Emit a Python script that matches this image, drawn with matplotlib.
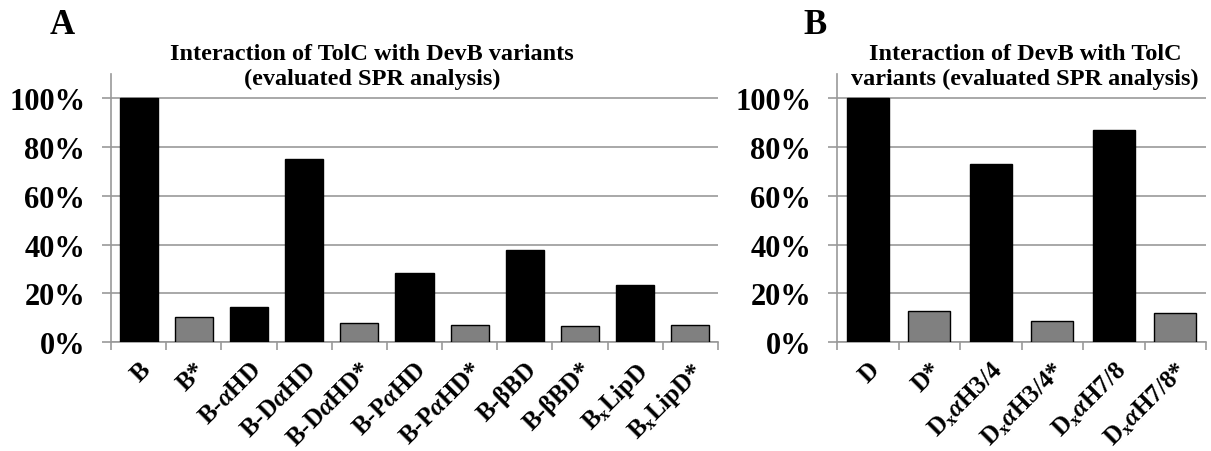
import numpy as np
import matplotlib
matplotlib.use('Agg')
import matplotlib.pyplot as plt
from matplotlib.ticker import PercentFormatter

plt.rcParams['font.family'] = 'Liberation Serif'
plt.rcParams['font.weight'] = 'bold'
plt.rcParams['mathtext.fontset'] = 'custom'
plt.rcParams['mathtext.rm'] = 'Liberation Serif:bold'
plt.rcParams['mathtext.bf'] = 'Liberation Serif:bold'
plt.rcParams['mathtext.it'] = 'Liberation Serif:bold:italic'
plt.rcParams['mathtext.default'] = 'bf'

# panel A: TolC with DevB variants
labels_a = ['B', 'B*', r'B-$\mathit{\alpha}$HD', r'B-D$\mathit{\alpha}$HD', r'B-D$\mathit{\alpha}$HD*',
            r'B-P$\mathit{\alpha}$HD', r'B-P$\mathit{\alpha}$HD*', 'B-βBD', 'B-βBD*',
            r'B$_x$LipD', r'B$_x$LipD*']
values_a = [100, 10.4, 14.2, 75.0, 7.7, 28.4, 7.1, 37.7, 6.5, 23.4, 7.1]
mutant_a = [False, True, False, False, True, False, True, False, True, False, True]

# panel B: DevB with TolC variants
labels_b = ['D', 'D*', r'D$_x\mathit{\alpha}$H3/4', r'D$_x\mathit{\alpha}$H3/4*',
            r'D$_x\mathit{\alpha}$H7/8', r'D$_x\mathit{\alpha}$H7/8*']
values_b = [100, 12.7, 73.2, 8.6, 87.0, 11.9]
mutant_b = [False, True, False, True, False, True]

GRID = '#999999'


def draw_panel(ax, labels, values, mutant, title, letter, title_x, letter_x):
    x = np.arange(len(values))
    colors = ['#808080' if m else 'black' for m in mutant]
    ax.bar(x, np.array(values) / 100.0, width=0.69, color=colors,
           edgecolor='black', linewidth=1.0, zorder=3)
    ax.set_ylim(0, 1.1)
    ax.set_xlim(-0.5, len(values) - 0.5)
    ax.set_yticks(np.arange(0, 1.01, 0.2))
    ax.yaxis.set_major_formatter(PercentFormatter(1.0, decimals=0))
    ax.yaxis.grid(True, color=GRID, linewidth=1.2, zorder=0)
    ax.set_axisbelow(True)
    for s in ['top', 'right']:
        ax.spines[s].set_visible(False)
    for s in ['left', 'bottom']:
        ax.spines[s].set_color(GRID)
        ax.spines[s].set_linewidth(1.2)
    ax.tick_params(axis='y', length=6.5, width=1.2, color=GRID, labelsize=22, pad=12)
    ax.set_xticks(x)
    ax.set_xticklabels(labels, rotation=45, ha='right', rotation_mode='anchor', fontsize=18)
    ax.tick_params(axis='x', which='major', length=0, pad=11)
    ax.set_xticks(np.arange(-0.5, len(values)), minor=True)
    ax.tick_params(axis='x', which='minor', length=6, width=1.2, color=GRID)
    fig.text(title_x, 1 - 67 / 452, title, ha='center', va='center', fontsize=17.5,
             fontweight='bold', linespacing=1.25)
    fig.text(letter_x, 1 - 25 / 452, letter, ha='center', va='center', fontsize=25,
             fontweight='bold')


fig = plt.figure(figsize=(12.11, 4.52), dpi=100)
ax_a = fig.add_axes([111 / 1211, 109 / 452, 607 / 1211, 268 / 452])
ax_b = fig.add_axes([837 / 1211, 109 / 452, 369 / 1211, 268 / 452])

draw_panel(ax_a, labels_a, values_a, mutant_a,
           'Interaction of TolC with DevB variants\n(evaluated SPR analysis)',
           'A', 372 / 1211, 62 / 1211)
draw_panel(ax_b, labels_b, values_b, mutant_b,
           'Interaction of DevB with TolC\nvariants (evaluated SPR analysis)',
           'B', 1025 / 1211, 815 / 1211)

fig.savefig('out.png', dpi=100)
